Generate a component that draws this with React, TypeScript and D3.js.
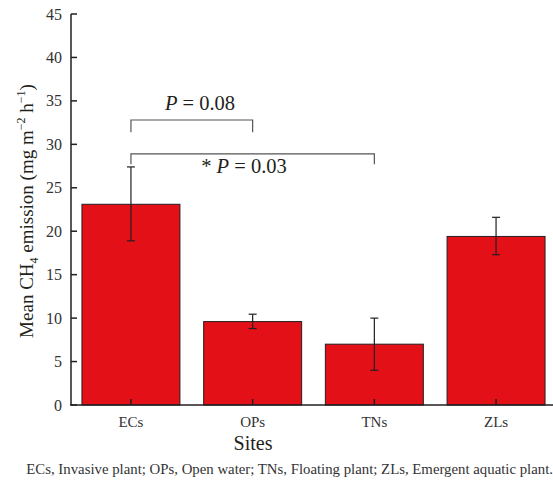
import React from "react";
import * as d3 from "d3";

// Mean CH4 emission per site with standard error
const sites = ["ECs", "OPs", "TNs", "ZLs"];
const means = [23.1, 9.6, 7.0, 19.4];
const errLow = [18.9, 8.8, 4.0, 17.3];
const errHigh = [27.4, 10.45, 10.0, 21.6];
const yTicks = [0, 5, 10, 15, 20, 25, 30, 35, 40, 45];

// Pairwise comparisons: from site, to site, bracket level, leg end, label
const compFrom = ["ECs", "ECs"];
const compTo = ["OPs", "TNs"];
const compLevel = [32.8, 28.9];
const compLeg = [31.4, 27.7];
const compStar = ["", "* "];
const compP = ["0.08", "0.03"];

const W = 553;
const H = 482;
const SERIF = "Liberation Serif";
const INK = "#231f20";
const tx: React.CSSProperties = { fontFamily: SERIF };

export default function App() {
  const x = d3
    .scaleBand<string>()
    .domain(sites)
    .range([71, 556])
    .paddingInner(0.195)
    .paddingOuter(0.09);
  const y = d3.scaleLinear().domain([0, 45]).range([405, 14]);
  const bw = x.bandwidth();
  const cx = (s: string) => (x(s) as number) + bw / 2;

  return (
    <svg
      width={W}
      height={H}
      style={{ position: "absolute", left: 0, top: 0, background: "#fff" }}
    >
      {/* bars */}
      {sites.map((s, i) => (
        <rect
          key={s}
          x={x(s)}
          y={y(means[i])}
          width={bw}
          height={y(0) - y(means[i])}
          fill="#e31017"
          stroke={INK}
          strokeWidth={1}
        />
      ))}
      {/* error bars */}
      {sites.map((s, i) => (
        <g key={"e" + s} stroke={INK} strokeWidth={1.2}>
          <line x1={cx(s)} x2={cx(s)} y1={y(errLow[i])} y2={y(errHigh[i])} />
          <line x1={cx(s) - 4} x2={cx(s) + 4} y1={y(errLow[i])} y2={y(errLow[i])} />
          <line x1={cx(s) - 4} x2={cx(s) + 4} y1={y(errHigh[i])} y2={y(errHigh[i])} />
        </g>
      ))}
      {/* comparison brackets */}
      {compFrom.map((f, i) => {
        const x1 = cx(f);
        const x2 = cx(compTo[i]);
        const yl = y(compLevel[i]);
        const yb = y(compLeg[i]);
        return (
          <path
            key={"b" + i}
            d={`M${x1},${yb}V${yl}H${x2}V${yb}`}
            fill="none"
            stroke="#555"
            strokeWidth={1.2}
          />
        );
      })}
      <text x={200} y={110} fontSize={20.5} textAnchor="middle" fill={INK} style={tx}>
        {compStar[0]}
        <tspan fontStyle="italic">P</tspan> = {compP[0]}
      </text>
      <text x={244} y={173} fontSize={20.5} textAnchor="middle" fill={INK} style={tx}>
        {compStar[1]}
        <tspan fontStyle="italic">P</tspan> = {compP[1]}
      </text>
      {/* y axis */}
      <line x1={71} x2={71} y1={y(45)} y2={y(0)} stroke={INK} strokeWidth={1.5} />
      {yTicks.map((t) => (
        <g key={"y" + t}>
          <line x1={71} x2={77} y1={y(t)} y2={y(t)} stroke={INK} strokeWidth={1.5} />
          <text
            x={62}
            y={y(t)}
            dy="0.35em"
            fontSize={16}
            textAnchor="end"
            fill="#333"
            style={tx}
          >
            {t}
          </text>
        </g>
      ))}
      {/* x axis */}
      <line x1={70} x2={W} y1={y(0)} y2={y(0)} stroke={INK} strokeWidth={1.5} />
      {sites.map((s) => (
        <g key={"x" + s}>
          <line x1={cx(s)} x2={cx(s)} y1={y(0)} y2={y(0) - 6} stroke={INK} strokeWidth={1.5} />
          <text x={cx(s)} y={427} fontSize={15} textAnchor="middle" fill="#333" style={tx}>
            {s}
          </text>
        </g>
      ))}
      <text x={253} y={450} fontSize={20} textAnchor="middle" fill={INK} style={tx}>
        Sites
      </text>
      <text
        transform="translate(33,211) rotate(-90)"
        fontSize={19}
        textAnchor="middle"
        fill={INK}
        style={tx}
      >
        Mean CH
        <tspan fontSize={12} dy={5}>4</tspan>
        <tspan dy={-5}> emission (mg m</tspan>
        <tspan fontSize={12} dy={-8}>−2</tspan>
        <tspan dy={8}> h</tspan>
        <tspan fontSize={12} dy={-8}>−1</tspan>
        <tspan dy={8}>)</tspan>
      </text>
      <text x={553} y={474} fontSize={14.8} textAnchor="end" fill="#333" style={tx}>
        ECs, Invasive plant; OPs, Open water; TNs, Floating plant; ZLs, Emergent aquatic plant.
      </text>
    </svg>
  );
}
